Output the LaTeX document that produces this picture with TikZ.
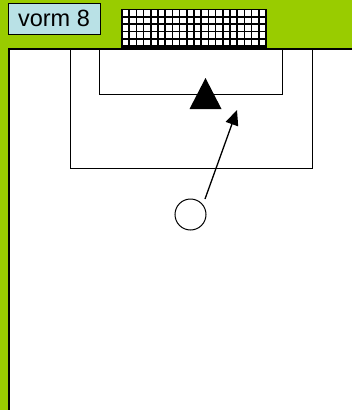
\documentclass[tikz,border=0pt]{standalone}
\usepackage{fontspec}
\setmainfont{Liberation Sans}
\usetikzlibrary{arrows.meta}
\definecolor{pitchgreen}{HTML}{99CC00}
\definecolor{labelblue}{HTML}{B9E1E6}
\tikzset{
  fieldline/.style={draw=black, line width=1pt},
  borderline/.style={draw=black, line width=2pt},
  netline/.style={draw=black, line width=1.6pt},
  labelbox/.style={draw=black, line width=1pt, fill=labelblue, font=\fontsize{23.5}{25}\selectfont,
    minimum width=92pt, minimum height=31pt, inner sep=0pt},
  ball/.style={circle, draw=black, line width=1pt, fill=white, minimum size=31pt, inner sep=0pt},
  runarrow/.style={draw=black, line width=1.3pt, -{Triangle[length=15pt,width=13pt]}}
}
\begin{document}
\begin{tikzpicture}[x=1pt,y=-1pt]
\useasboundingbox (0,0) rectangle (352,410);
% background
\fill[pitchgreen] (0,0) rectangle (352,410);
\fill[white] (9,48.7) rectangle (352,410);
% field border
\draw[borderline] (9,410) -- (9,48.7) -- (352,48.7);
% penalty area and goal area
\draw[fieldline] (70,48.7) -- (70,168.5) -- (312.5,168.5) -- (312.5,48.7);
\draw[fieldline] (99.5,48.7) -- (99.5,94) -- (282,94) -- (282,48.7);
% goal net
\fill[white] (122,9.5) rectangle (266,48);
\foreach \i in {0,...,20} {
  \draw[netline] ({122+\i*7.2},9.5) -- ({122+\i*7.2},48);
}
\foreach \j in {0,...,5} {
  \draw[netline] (122,{9.5+\j*7.3}) -- (266,{9.5+\j*7.3});
}
\draw[draw=black, line width=1.5pt] (122,9.5) rectangle (266,48);
% label
\node[labelbox] (label) at (54,18.5) {vorm 8};
% player
\fill[black] (205.5,78) -- (221.5,109) -- (189.5,109) -- cycle;
% ball
\node[ball] (ball) at (190.5,214.5) {};
\coordinate (runstart) at (205,199);
\coordinate (runend) at (237,110);
\draw[runarrow] (runstart) -- (runend);
\end{tikzpicture}
\end{document}
